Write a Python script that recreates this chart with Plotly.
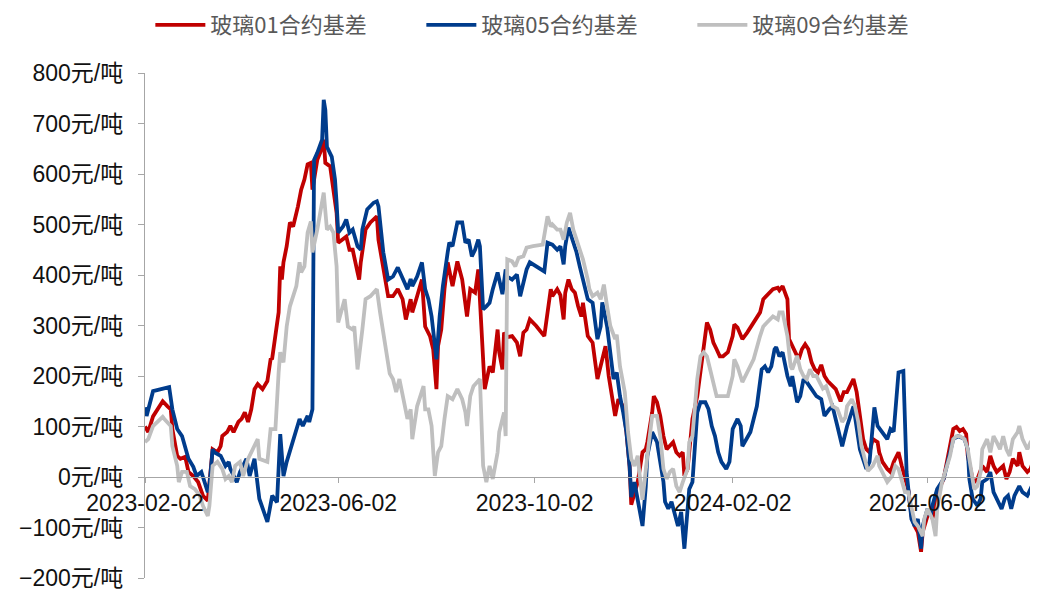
import plotly.graph_objects as go

# ---------------- data ----------------
red_dates = [
    "2023-02-02","2023-02-04","2023-02-07","2023-02-13","2023-02-16","2023-02-18","2023-02-19","2023-02-22","2023-02-24","2023-02-27",
    "2023-03-01","2023-03-04","2023-03-07","2023-03-10","2023-03-13","2023-03-16","2023-03-19","2023-03-21","2023-03-22","2023-03-25",
    "2023-03-27","2023-03-29","2023-04-01","2023-04-03","2023-04-05","2023-04-07","2023-04-09","2023-04-11","2023-04-13","2023-04-16",
    "2023-04-19","2023-04-21","2023-04-22","2023-04-25","2023-04-26","2023-04-27","2023-04-28","2023-04-29","2023-05-01","2023-05-03",
    "2023-05-05","2023-05-08","2023-05-10","2023-05-12","2023-05-14","2023-05-16","2023-05-17","2023-05-20","2023-05-22","2023-05-24",
    "2023-05-25","2023-05-28","2023-05-30","2023-06-01","2023-06-02","2023-06-05","2023-06-07","2023-06-09","2023-06-11","2023-06-14",
    "2023-06-15","2023-06-16","2023-06-19","2023-06-22","2023-06-26","2023-06-27","2023-06-30","2023-07-03","2023-07-06","2023-07-09",
    "2023-07-12","2023-07-14","2023-07-17","2023-07-18","2023-07-21","2023-07-24","2023-07-26","2023-07-29","2023-07-31","2023-08-02",
    "2023-08-03","2023-08-05","2023-08-07","2023-08-09","2023-08-12","2023-08-15","2023-08-18","2023-08-21","2023-08-23","2023-08-26",
    "2023-08-28","2023-08-30","2023-09-01","2023-09-04","2023-09-06","2023-09-09","2023-09-10","2023-09-12","2023-09-13","2023-09-15",
    "2023-09-18","2023-09-21","2023-09-23","2023-09-25","2023-09-27","2023-09-29","2023-10-03","2023-10-08","2023-10-12","2023-10-13",
    "2023-10-16","2023-10-18","2023-10-20","2023-10-21","2023-10-23","2023-10-25","2023-10-27","2023-10-29","2023-10-31","2023-11-01",
    "2023-11-04","2023-11-07","2023-11-08","2023-11-10","2023-11-13","2023-11-15","2023-11-17","2023-11-19","2023-11-21","2023-11-23",
    "2023-11-26","2023-11-28","2023-11-30","2023-12-01","2023-12-05","2023-12-08","2023-12-10","2023-12-11","2023-12-14","2023-12-15",
    "2023-12-17","2023-12-19","2023-12-21","2023-12-23","2023-12-25","2023-12-27","2023-12-29","2023-12-31","2024-01-02","2024-01-03",
    "2024-01-05","2024-01-06","2024-01-08","2024-01-11","2024-01-13","2024-01-15","2024-01-17","2024-01-19","2024-01-21","2024-01-23",
    "2024-01-25","2024-01-27","2024-01-30","2024-02-02","2024-02-03","2024-02-05","2024-02-08","2024-02-11","2024-02-15","2024-02-19",
    "2024-02-21","2024-02-23","2024-02-25","2024-02-27","2024-03-01","2024-03-02","2024-03-04","2024-03-07","2024-03-08","2024-03-10",
    "2024-03-14","2024-03-16","2024-03-18","2024-03-20","2024-03-22","2024-03-24","2024-03-26","2024-03-28","2024-03-30","2024-04-01",
    "2024-04-04","2024-04-06","2024-04-09","2024-04-11","2024-04-13","2024-04-15","2024-04-17","2024-04-19","2024-04-21","2024-04-23",
    "2024-04-25","2024-04-27","2024-04-29","2024-05-02","2024-05-03","2024-05-05","2024-05-08","2024-05-10","2024-05-12","2024-05-14",
    "2024-05-15","2024-05-17","2024-05-19","2024-05-21","2024-05-23","2024-05-25","2024-05-27","2024-05-29","2024-05-30","2024-06-02",
    "2024-06-04","2024-06-05","2024-06-08","2024-06-10","2024-06-12","2024-06-14","2024-06-16","2024-06-18","2024-06-20","2024-06-22",
    "2024-06-24","2024-06-26","2024-06-27","2024-06-30","2024-07-01","2024-07-03","2024-07-06","2024-07-09","2024-07-11","2024-07-13",
    "2024-07-15","2024-07-17","2024-07-19","2024-07-21","2024-07-23","2024-07-25","2024-07-28","2024-07-29","2024-07-31","2024-08-03",
    "2024-08-05","2024-08-07","2024-08-09",
]
red_values = [
    100, 89, 120, 150, 140, 134, 95, 42, 36, 40,
    10, 2, -10, -37, -47, 55, 49, 61, 81, 89,
    101, 89, 109, 115, 128, 109, 134, 174, 184, 174,
    190, 233, 235, 312, 326, 417, 391, 425, 457, 504,
    496, 536, 569, 589, 619, 622, 569, 628, 644, 668,
    622, 615, 569, 523, 464, 470, 476, 450, 450, 405,
    391, 425, 490, 504, 516, 470, 417, 358, 358, 372,
    352, 312, 352, 326, 358, 391, 298, 279, 253, 174,
    259, 292, 372, 425, 378, 427, 391, 318, 372, 365,
    411, 292, 174, 219, 207, 292, 247, 213, 286, 277,
    279, 266, 239, 286, 292, 312, 299, 279, 372, 358,
    372, 360, 312, 365, 391, 372, 365, 338, 318, 345,
    279, 266, 239, 194, 233, 259, 200, 154, 121, 154,
    140, 89, 20, -55, -10, 49, 55, 69, 128, 160,
    148, 121, 81, 55, 61, 69, 49, 42, 49, 2,
    16, 55, 115, 160, 207, 253, 306, 292, 266, 253,
    239, 239, 247, 279, 302, 296, 273, 286, 306, 326,
    352, 358, 365, 372, 375, 370, 378, 352, 273, 259,
    233, 253, 263, 253, 227, 213, 207, 222, 200, 190,
    180, 174, 150, 168, 168, 180, 194, 168, 115, 75,
    55, 49, 75, 69, 49, 30, 16, 10, 30, 42,
    49, 22, -4, -24, -77, -97, -109, -148, -109, -77,
    -69, -83, -43, -18, -4, 30, 61, 95, 99, 91,
    95, 85, 42, -4, -10, -4, 22, 10, 42, 22,
    10, 16, 22, -4, 10, 36, 22, 49, 22, 10,
    16, 36, 69,
]

blue_dates = [
    "2023-02-02","2023-02-03","2023-02-07","2023-02-13","2023-02-17","2023-02-19","2023-02-22","2023-02-25","2023-02-27","2023-03-01",
    "2023-03-04","2023-03-06","2023-03-09","2023-03-11","2023-03-13","2023-03-14","2023-03-16","2023-03-17","2023-03-21","2023-03-24",
    "2023-03-26","2023-03-27","2023-03-31","2023-04-02","2023-04-06","2023-04-08","2023-04-11","2023-04-14","2023-04-19","2023-04-22",
    "2023-04-25","2023-04-27","2023-04-29","2023-05-01","2023-05-04","2023-05-07","2023-05-09","2023-05-11","2023-05-14","2023-05-15",
    "2023-05-17","2023-05-18","2023-05-20","2023-05-23","2023-05-24","2023-05-25","2023-05-26","2023-05-29","2023-05-31","2023-06-01",
    "2023-06-02","2023-06-05","2023-06-07","2023-06-09","2023-06-11","2023-06-14","2023-06-16","2023-06-17","2023-06-20","2023-06-24",
    "2023-06-26","2023-06-27","2023-06-29","2023-06-30","2023-07-03","2023-07-06","2023-07-09","2023-07-12","2023-07-15","2023-07-17",
    "2023-07-18","2023-07-21","2023-07-24","2023-07-26","2023-07-28","2023-07-30","2023-08-02","2023-08-04","2023-08-06","2023-08-09",
    "2023-08-10","2023-08-12","2023-08-15","2023-08-18","2023-08-20","2023-08-22","2023-08-24","2023-08-26","2023-08-28","2023-08-29",
    "2023-08-31","2023-09-02","2023-09-04","2023-09-06","2023-09-09","2023-09-10","2023-09-12","2023-09-14","2023-09-15","2023-09-18",
    "2023-09-21","2023-09-23","2023-09-25","2023-09-27","2023-09-29","2023-10-03","2023-10-08","2023-10-10","2023-10-13","2023-10-16",
    "2023-10-18","2023-10-20","2023-10-21","2023-10-23","2023-10-26","2023-10-28","2023-10-30","2023-11-02","2023-11-04","2023-11-07",
    "2023-11-10","2023-11-12","2023-11-13","2023-11-16","2023-11-18","2023-11-20","2023-11-22","2023-11-24","2023-11-26","2023-11-28",
    "2023-11-30","2023-12-01","2023-12-03","2023-12-05","2023-12-08","2023-12-10","2023-12-11","2023-12-14","2023-12-17","2023-12-19",
    "2023-12-21","2023-12-22","2023-12-24","2023-12-26","2023-12-28","2023-12-30","2024-01-01","2024-01-03","2024-01-05","2024-01-06",
    "2024-01-08","2024-01-11","2024-01-13","2024-01-16","2024-01-18","2024-01-20","2024-01-22","2024-01-24","2024-01-26","2024-01-29",
    "2024-01-31","2024-02-02","2024-02-05","2024-02-07","2024-02-08","2024-02-13","2024-02-17","2024-02-20","2024-02-22","2024-02-24",
    "2024-02-26","2024-02-28","2024-02-29","2024-03-02","2024-03-04","2024-03-07","2024-03-09","2024-03-10","2024-03-13","2024-03-15",
    "2024-03-17","2024-03-19","2024-03-22","2024-03-25","2024-03-28","2024-03-30","2024-04-02","2024-04-04","2024-04-07","2024-04-10",
    "2024-04-13","2024-04-17","2024-04-21","2024-04-25","2024-04-27","2024-04-30","2024-05-02","2024-05-05","2024-05-08","2024-05-10",
    "2024-05-12","2024-05-15","2024-05-18","2024-05-20","2024-05-21","2024-05-23","2024-05-25","2024-05-27","2024-05-29","2024-05-30",
    "2024-06-02","2024-06-04","2024-06-05","2024-06-08","2024-06-12","2024-06-14","2024-06-16","2024-06-18","2024-06-21","2024-06-25",
    "2024-06-27","2024-06-28","2024-06-30","2024-07-03","2024-07-05","2024-07-06","2024-07-09","2024-07-11","2024-07-13","2024-07-16",
    "2024-07-18","2024-07-20","2024-07-22","2024-07-24","2024-07-26","2024-07-29","2024-07-31","2024-08-03","2024-08-05","2024-08-07",
    "2024-08-09",
]
blue_values = [
    138, 121, 170, 174, 178, 134, 95, 81, 61, 36,
    20, 2, 10, -10, -30, -18, 55, 49, 42, 22,
    30, 16, -10, 10, 36, 2, 36, -43, -89, -37,
    -50, 85, 2, 30, 61, 89, 115, 101, 121, 109,
    134, 628, 642, 668, 747, 727, 654, 634, 589, 543,
    484, 496, 510, 484, 490, 457, 450, 490, 530, 543,
    546, 536, 476, 445, 391, 397, 415, 391, 372, 392,
    378, 397, 425, 372, 352, 318, 233, 318, 378, 445,
    464, 457, 504, 504, 464, 470, 437, 450, 470, 457,
    332, 338, 345, 372, 405, 391, 362, 411, 397, 391,
    401, 358, 385, 411, 425, 417, 407, 464, 460, 450,
    457, 421, 457, 494, 464, 445, 417, 378, 352, 345,
    273, 298, 346, 298, 239, 194, 207, 160, 128, 89,
    20, -40, -10, -49, -97, -20, 42, 89, 69, 30,
    -10, -49, -63, -49, -77, -97, -69, -142, -63, -24,
    -10, 128, 148, 148, 134, 101, 81, 49, 30, 16,
    30, 95, 115, 101, 61, 89, 140, 213, 219, 207,
    219, 253, 257, 239, 247, 200, 180, 200, 148, 160,
    194, 188, 174, 160, 154, 121, 134, 140, 101, 61,
    100, 140, 55, 16, 30, 138, 101, 89, 75, 95,
    90, 207, 210, 10, -24, -83, -97, -83, -142, -97,
    -63, -77, -57, -24, -4, 22, 55, 75, 81, 75,
    55, -4, -43, -57, -43, -10, -4, 10, -30, -50,
    -63, -43, -37, -63, -37, -18, -30, -37, -24, -10,
    10,
]

gray_dates = [
    "2023-02-02","2023-02-04","2023-02-07","2023-02-13","2023-02-14","2023-02-18","2023-02-19","2023-02-22","2023-02-23","2023-02-25",
    "2023-02-28","2023-03-02","2023-03-05","2023-03-08","2023-03-10","2023-03-13","2023-03-14","2023-03-16","2023-03-19","2023-03-22",
    "2023-03-24","2023-03-26","2023-03-28","2023-03-30","2023-04-02","2023-04-04","2023-04-07","2023-04-10","2023-04-13","2023-04-14",
    "2023-04-19","2023-04-21","2023-04-24","2023-04-26","2023-04-27","2023-04-29","2023-05-01","2023-05-03","2023-05-05","2023-05-07",
    "2023-05-09","2023-05-10","2023-05-12","2023-05-14","2023-05-16","2023-05-17","2023-05-20","2023-05-22","2023-05-24","2023-05-26",
    "2023-05-28","2023-05-30","2023-06-01","2023-06-02","2023-06-04","2023-06-06","2023-06-08","2023-06-11","2023-06-12","2023-06-14",
    "2023-06-17","2023-06-19","2023-06-22","2023-06-26","2023-06-28","2023-06-30","2023-07-02","2023-07-04","2023-07-06","2023-07-08",
    "2023-07-10","2023-07-12","2023-07-15","2023-07-17","2023-07-18","2023-07-21","2023-07-23","2023-07-25","2023-07-26","2023-07-28",
    "2023-07-30","2023-08-01","2023-08-03","2023-08-05","2023-08-07","2023-08-09","2023-08-12","2023-08-15","2023-08-18","2023-08-20",
    "2023-08-21","2023-08-23","2023-08-25","2023-08-29","2023-08-31","2023-09-02","2023-09-04","2023-09-06","2023-09-09","2023-09-10",
    "2023-09-13","2023-09-14","2023-09-15","2023-09-18","2023-09-20","2023-09-22","2023-09-25","2023-09-27","2023-10-01","2023-10-07",
    "2023-10-10","2023-10-12","2023-10-13","2023-10-16","2023-10-18","2023-10-20","2023-10-22","2023-10-24","2023-10-26","2023-10-28",
    "2023-10-30","2023-11-01","2023-11-04","2023-11-05","2023-11-07","2023-11-10","2023-11-12","2023-11-14","2023-11-16","2023-11-18",
    "2023-11-21","2023-11-22","2023-11-24","2023-11-27","2023-11-29","2023-12-01","2023-12-03","2023-12-05","2023-12-06","2023-12-08",
    "2023-12-11","2023-12-14","2023-12-17","2023-12-19","2023-12-21","2023-12-23","2023-12-25","2023-12-27","2023-12-29","2023-12-31",
    "2024-01-02","2024-01-05","2024-01-06","2024-01-08","2024-01-11","2024-01-13","2024-01-15","2024-01-17","2024-01-19","2024-01-21",
    "2024-01-23","2024-01-26","2024-01-30","2024-02-02","2024-02-03","2024-02-05","2024-02-08","2024-02-11","2024-02-15","2024-02-19",
    "2024-02-21","2024-02-23","2024-02-25","2024-02-27","2024-03-01","2024-03-02","2024-03-04","2024-03-07","2024-03-09","2024-03-10",
    "2024-03-13","2024-03-15","2024-03-17","2024-03-19","2024-03-21","2024-03-23","2024-03-25","2024-03-27","2024-03-29","2024-03-31",
    "2024-04-02","2024-04-04","2024-04-07","2024-04-10","2024-04-12","2024-04-13","2024-04-16","2024-04-18","2024-04-20","2024-04-22",
    "2024-04-24","2024-04-26","2024-04-29","2024-05-02","2024-05-03","2024-05-05","2024-05-08","2024-05-11","2024-05-13","2024-05-15",
    "2024-05-17","2024-05-19","2024-05-21","2024-05-23","2024-05-25","2024-05-27","2024-05-30","2024-05-31","2024-06-02","2024-06-05",
    "2024-06-07","2024-06-08","2024-06-11","2024-06-13","2024-06-16","2024-06-18","2024-06-20","2024-06-22","2024-06-25","2024-06-27",
    "2024-06-30","2024-07-01","2024-07-03","2024-07-05","2024-07-06","2024-07-09","2024-07-11","2024-07-13","2024-07-15","2024-07-17",
    "2024-07-19","2024-07-21","2024-07-23","2024-07-25","2024-07-28","2024-07-29","2024-07-31","2024-08-03","2024-08-05","2024-08-07",
    "2024-08-09",
]
gray_values = [
    69, 75, 101, 119, 115, 101, 61, 22, -10, 10,
    10, -18, -24, -37, -57, -77, -57, 22, 30, 16,
    -4, 2, -10, 22, 30, 2, 36, 55, 75, 36,
    30, 95, 95, 207, 247, 227, 298, 338, 358, 378,
    425, 405, 417, 484, 506, 445, 490, 523, 563, 490,
    496, 484, 417, 306, 326, 352, 298, 292, 298, 213,
    292, 352, 358, 372, 326, 286, 250, 205, 194, 168,
    194, 160, 115, 134, 75, 140, 160, 180, 134, 134,
    101, 2, 49, 61, 115, 160, 154, 174, 154, 128,
    101, 160, 180, 194, 22, -10, 22, -4, 49, 89,
    128, 81, 431, 427, 417, 434, 437, 454, 457, 460,
    516, 496, 500, 490, 490, 470, 504, 523, 490, 470,
    445, 431, 391, 372, 358, 365, 352, 381, 338, 299,
    273, 282, 219, 168, 89, 36, 22, 42, 10, -45,
    42, 121, 121, 81, 16, -4, 10, 16, -18, -30,
    -10, 16, 69, 81, 194, 239, 247, 239, 213, 188,
    160, 160, 160, 200, 233, 219, 188, 207, 233, 279,
    298, 305, 312, 318, 312, 326, 326, 279, 219, 213,
    240, 213, 200, 194, 213, 200, 200, 188, 175, 180,
    160, 140, 135, 109, 118, 140, 154, 140, 109, 61,
    36, 12, 22, 42, 22, 10, -10, 2, 22, 16,
    -4, -30, -30, -57, -89, -97, -117, -83, -63, -83,
    -117, -63, -10, 10, 42, 75, 81, 81, 75, 55,
    0, -24, -18, 10, 55, 75, 49, 81, 69, 55,
    81, 55, 42, 75, 89, 101, 75, 55, 69, 75,
    121,
]

series_names = ["玻璃01合约基差", "玻璃05合约基差", "玻璃09合约基差"]
series_colors = ["#C00000", "#003C8C", "#BFBFBF"]

x_tick_dates = ["2023-02-02", "2023-06-02", "2023-10-02", "2024-02-02", "2024-06-02"]
y_tick_values = [-200, -100, 0, 100, 200, 300, 400, 500, 600, 700, 800]
y_tick_labels = [f"{v}元/吨".replace("-", "\u2212") for v in y_tick_values]

x_range = ["2023-02-02", "2024-08-09"]
y_range = [-200, 800]

# ---------------- figure ----------------
fig = go.Figure()
for name, color, xs, ys in zip(
    series_names, series_colors,
    [red_dates, blue_dates, gray_dates],
    [red_values, blue_values, gray_values],
):
    fig.add_trace(go.Scatter(
        x=xs, y=ys, mode="lines", name=name,
        line=dict(color=color, width=3.8),
        cliponaxis=False,
    ))

axis_color = "#A6A6A6"
y_font = dict(family="Liberation Sans, Noto Sans CJK SC, sans-serif", size=23, color="#111111")
x_font = dict(family="Liberation Sans, Noto Sans CJK SC, sans-serif", size=23, color="#111111")

zero_pos = (0 - y_range[0]) / (y_range[1] - y_range[0])

fig.update_layout(
    width=1030, height=582,
    margin=dict(l=137, r=1, t=65, b=12, autoexpand=False),
    paper_bgcolor="white", plot_bgcolor="white",
    showlegend=True,
    legend=dict(
        orientation="h", x=0.006, xanchor="left", y=1.095, yanchor="middle",
        font=dict(family="Noto Sans CJK SC, sans-serif", size=22, color="#595959"),
        itemwidth=50, entrywidth=206, bgcolor="rgba(0,0,0,0)",
    ),
    xaxis=dict(
        type="date", range=x_range, automargin=False,
        anchor="free", position=zero_pos,
        showline=True, linecolor=axis_color, linewidth=1.3,
        ticks="outside", ticklen=5, tickcolor=axis_color,
        tickvals=x_tick_dates, ticktext=x_tick_dates,
        tickfont=x_font, showgrid=False, zeroline=False,
    ),
    yaxis=dict(
        range=y_range, automargin=False,
        showline=True, linecolor=axis_color, linewidth=1.3,
        ticks="outside", ticklen=6, tickcolor=axis_color,
        ticklabelstandoff=10, ticklabeloverflow="allow",
        tickvals=y_tick_values, ticktext=y_tick_labels,
        tickfont=y_font, showgrid=False, zeroline=False,
    ),
)

fig.write_html("out.html")
